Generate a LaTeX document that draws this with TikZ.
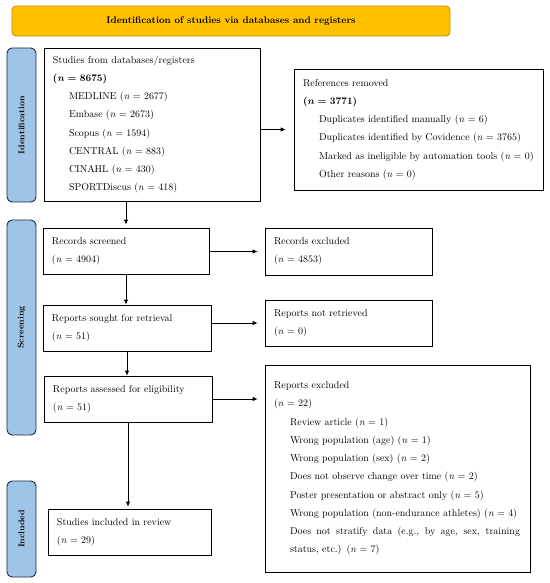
\documentclass[tikz,border=0pt]{standalone}
\usetikzlibrary{arrows.meta}
\definecolor{gold}{HTML}{FFC000}
\definecolor{golddark}{HTML}{C09000}
\definecolor{sideblue}{HTML}{A0C4E8}
\definecolor{sideborder}{HTML}{1F2A3A}
\newcommand{\bodyfont}{\fontsize{10}{18.3}\selectfont}
\newcommand{\ind}{\hspace*{16bp}}
\newcommand{\nn}{\textit{n}}
\newcommand{\justline}[1]{{\spaceskip=3.33pt plus 30pt minus 1pt\hbox to 230bp{#1}}}
\begin{document}
\begin{tikzpicture}[x=1bp,y=-1bp,
  box/.style={draw=black, line width=0.8pt, rectangle, inner xsep=9bp, inner ysep=0pt, align=left, font=\bodyfont},
  sidelab/.style={draw=sideborder, fill=sideblue, line width=0.9pt, rounded corners=5bp, rotate=90, minimum height=29bp, inner sep=0pt, font=\fontsize{8.5}{10}\selectfont\bfseries},
  banner/.style={draw=golddark, fill=gold, line width=0.8pt, rounded corners=4bp, font=\fontsize{9.7}{12}\selectfont\bfseries},
  arr/.style={-{Latex[length=5bp,width=4.5bp]}, line width=0.8pt}
]
\useasboundingbox (0,0) rectangle (550,583);

\node[banner, minimum width=438bp, minimum height=30bp] (title) at (231,21) {Identification of studies via databases and registers};

\node[sidelab, minimum width=154bp] (idlab) at (21.5,125) {Identification};
\node[sidelab, minimum width=215bp] (scrlab) at (21.5,327.5) {Screening};
\node[sidelab, minimum width=96bp] (inclab) at (21.5,529) {Included};

\node[box, text width=198bp, minimum height=153bp] (b1) at (152,124.5) {Studies from databases/registers\\
\textbf{(\textit{n} = 8675)}\\
\ind MEDLINE (\nn{} = 2677)\\
\ind Embase (\nn{} = 2673)\\
\ind Scopus (\nn{} = 1594)\\
\ind CENTRAL (\nn{} = 883)\\
\ind CINAHL (\nn{} = 430)\\
\ind SPORTDiscus (\nn{} = 418)};

\node[box, text width=231bp, minimum height=121bp] (refs) at (418.5,129.5) {References removed\\
\textbf{(\textit{n} = 3771)}\\
\ind Duplicates identified manually (\nn{} = 6)\\
\ind Duplicates identified by Covidence (\nn{} = 3765)\\
\ind Marked as ineligible by automation tools (\nn{} = 0)\\
\ind Other reasons (\nn{} = 0)};

\node[box, text width=148bp, minimum height=46bp] (scr) at (126,251) {Records screened\\(\nn{} = 4904)};
\node[box, text width=149bp, minimum height=47bp] (rexcl) at (348.5,251.5) {Records excluded\\(\nn{} = 4853)};

\node[box, text width=150bp, minimum height=46bp] (sought) at (127,328) {Reports sought for retrieval\\(\nn{} = 51)};
\node[box, text width=149bp, minimum height=46bp] (notret) at (348.5,323) {Reports not retrieved\\(\nn{} = 0)};

\node[box, text width=150bp, minimum height=46bp] (assess) at (128,399) {Reports assessed for eligibility\\(\nn{} = 51)};
\node[box, text width=247bp, minimum height=207bp] (repexcl) at (397.5,468.5) {Reports excluded\\
(\nn{} = 22)\\
\ind Review article (\nn{} = 1)\\
\ind Wrong population (age) (\nn{} = 1)\\
\ind Wrong population (sex) (\nn{} = 2)\\
\ind Does not observe change over time (\nn{} = 2)\\
\ind Poster presentation or abstract only (\nn{} = 5)\\
\ind Wrong population (non-endurance athletes) (\nn{} = 4)\\
\ind \justline{Does not stratify data (e.g., by age, sex, training}\\
\ind status, etc.) (\nn{} = 7)};

\node[box, text width=145bp, minimum height=46bp] (incl) at (129.5,532) {Studies included in review\\(\nn{} = 29)};

\draw[arr, shorten >=8bp] (b1.east |- refs.west) -- (refs.west);
\draw[arr, shorten >=7bp] (scr.east |- rexcl.west) -- (rexcl.west);
\draw[arr, shorten >=7bp] (sought.east |- notret.west) -- (notret.west);
\draw[arr, shorten >=7bp] (assess.east) -- (assess.east -| repexcl.west);
\draw[arr, shorten >=3bp] (b1.south -| scr.north) -- (scr.north);
\draw[arr] (scr.south) -- (scr.south |- sought.north);
\draw[arr] (sought.south) -- (sought.south |- assess.north);
\draw[arr, shorten >=2bp] (assess.south) -- (assess.south |- incl.north);
\end{tikzpicture}
\end{document}
